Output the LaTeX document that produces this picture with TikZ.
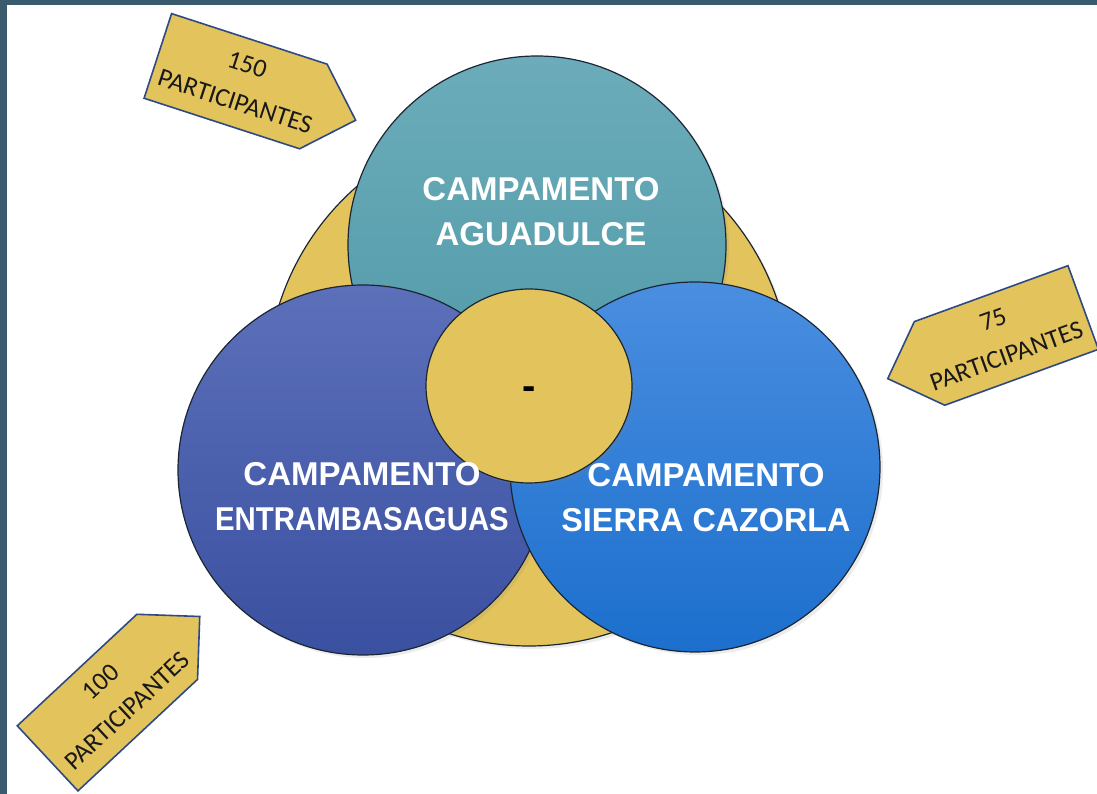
\documentclass[tikz,border=0pt]{standalone}
\usepackage{fontspec}
\setmainfont{Liberation Sans}
\newfontfamily\tagfont{Carlito}
\usetikzlibrary{shapes.symbols,shapes.geometric,shadows}
\definecolor{framecol}{RGB}{58,91,109}
\definecolor{sunyellow}{RGB}{227,195,92}
\definecolor{tagedge}{RGB}{45,74,132}
\definecolor{ringedge}{RGB}{28,38,51}
\definecolor{tealtop}{RGB}{108,172,186}
\definecolor{tealbot}{RGB}{78,152,166}
\definecolor{indtop}{RGB}{92,112,186}
\definecolor{indbot}{RGB}{58,80,160}
\definecolor{bluetop}{RGB}{74,142,224}
\definecolor{bluebot}{RGB}{28,111,205}
\tikzset{%
  ring/.style     = {circle, draw=ringedge, line width=1.2pt, inner sep=0pt,%
                     drop shadow={opacity=0.15, shadow xshift=3pt, shadow yshift=-3pt}},%
  camptext/.style = {text=white, font=\fontsize{33}{45}\selectfont\bfseries,%
                     align=center, inner sep=0pt},%
  tag/.style      = {signal, signal pointer angle=90, draw=tagedge, line width=1.6pt,%
                     fill=sunyellow, minimum width=208pt, minimum height=89pt,%
                     inner sep=0pt, transform shape},%
  tagtext/.style  = {font=\tagfont\fontsize{26}{39}\selectfont, text=black!90,%
                     align=center, inner sep=0pt, transform shape}%
}
\begin{document}
\begin{tikzpicture}[x=1pt,y=1pt]
  \useasboundingbox (0,0) rectangle (1097,794);
  \fill[white] (0,0) rectangle (1097,794);
  \fill[framecol] (0,789) rectangle (1097,794);
  \fill[framecol] (0,0) rectangle (7,794);
  % circles
  \node[ring, fill=sunyellow, minimum size=524] (rim) at (529,410) {};
  \node[ring, top color=tealtop, bottom color=tealbot, minimum size=378] (agua) at (537,549) {};
  \node[ring, top color=indtop, bottom color=indbot, minimum size=370] (entra) at (363,324) {};
  \node[ring, top color=bluetop, bottom color=bluebot, minimum size=370] (sierra) at (695,327) {};
  \node[ring, ellipse, fill=sunyellow, minimum width=206, minimum height=194] (hub) at (529,408) {};
  \node[camptext] (aguatext) at (541,582) {CAMPAMENTO\\AGUADULCE};
  \node[camptext] (entratext) at (362,297) {CAMPAMENTO\\\scalebox{0.89}[1]{ENTRAMBASAGUAS}};
  \node[camptext] (sierratext) at (706,296) {CAMPAMENTO\\\scalebox{0.98}[1]{SIERRA CAZORLA}};
  \node[font=\fontsize{40}{40}\selectfont\bfseries, inner sep=0pt] (hubtext) at (529,401) {-};
  % tags
  \begin{scope}[shift={(256.5,706)}, rotate=-18]
    \node[tag, signal to=east] (t150) at (-22,0) {};
    \node[tagtext] (t150text) at (-16,0) {150\\PARTICIPANTES};
  \end{scope}
  \begin{scope}[shift={(985.7,451)}, rotate=20]
    \node[tag, signal to=west] (t75) at (22,0) {};
    \node[tagtext] (t75text) at (15,0) {75\\PARTICIPANTES};
  \end{scope}
  \begin{scope}[shift={(123.5,106.4)}, rotate=43]
    \node[tag, signal to=east] (t100) at (-22,0) {};
    \node[tagtext] (t100text) at (-13,0) {100\\PARTICIPANTES};
  \end{scope}
\end{tikzpicture}
\end{document}
